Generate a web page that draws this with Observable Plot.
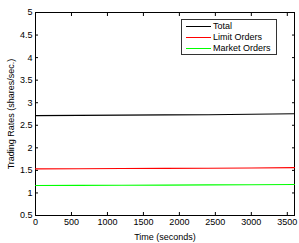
<!DOCTYPE html>
<html><head><meta charset="utf-8">
<script src="https://cdn.jsdelivr.net/npm/d3@7"></script>
<script src="https://cdn.jsdelivr.net/npm/@observablehq/plot@0.6"></script>
<style>
body{margin:0;background:#fff;font-family:"Liberation Sans",Arial,sans-serif;}
#wrap{position:relative;width:299px;height:243px;}
#legend{position:absolute;left:181px;top:19px;width:94px;height:34px;border:1px solid #333;background:#fff;font-size:9px;}
.row{position:absolute;left:0;height:11px;width:94px;}
.sw{position:absolute;left:4px;top:5px;width:25px;height:0;border-top:1px solid;}
.lb{position:absolute;left:31px;top:0;line-height:11px;color:#000;white-space:nowrap;}
</style></head>
<body><div id="wrap"><div id="legend"></div></div>
<script>
const seriesNames = ["Total", "Limit Orders", "Market Orders"];
const seriesColors = ["#000000", "#ff0000", "#00ff00"];
const time = [0, 600, 1200, 1800, 2400, 3000, 3600];
const total = [2.715, 2.72, 2.725, 2.73, 2.735, 2.745, 2.755];
const limitOrders = [1.534, 1.537, 1.541, 1.545, 1.549, 1.554, 1.561];
const marketOrders = [1.165, 1.168, 1.171, 1.174, 1.178, 1.182, 1.186];
const xTicks = [0, 500, 1000, 1500, 2000, 2500, 3000, 3500];
const yTicks = [0.5, 1, 1.5, 2, 2.5, 3, 3.5, 4, 4.5, 5];

const values = [total, limitOrders, marketOrders];
const data = [];
values.forEach((arr, s) => arr.forEach((v, i) => data.push({t: time[i], v, s: seriesNames[s]})));

const chart = Plot.plot({
  width: 299, height: 243,
  marginLeft: 35, marginRight: 5, marginTop: 12, marginBottom: 28,
  style: {fontFamily: '"Liberation Sans", Arial, sans-serif', fontSize: "9px", background: "#fff"},
  x: {domain: [0, 3600]},
  y: {domain: [0.5, 5]},
  color: {domain: seriesNames, range: seriesColors},
  marks: [
    Plot.frame({stroke: "#000", strokeWidth: 1}),
    Plot.axisX(xTicks, {anchor: "bottom", tickSize: -3, tickPadding: 6, tickFormat: d3.format("d"), label: "Time (seconds)", labelAnchor: "center", labelArrow: "none", labelOffset: 24, color: "#000"}),
    Plot.axisX(xTicks, {anchor: "top", tickSize: -3, text: null, label: null}),
    Plot.axisY(yTicks, {anchor: "left", tickSize: -3, tickPadding: 6, tickFormat: d => String(d), label: "Trading Rates (shares/sec.)", labelAnchor: "center", labelArrow: "none", labelOffset: 28, color: "#000"}),
    Plot.axisY(yTicks, {anchor: "right", tickSize: -3, text: null, label: null}),
    Plot.line(data, {x: "t", y: "v", z: "s", stroke: "s", strokeWidth: 1.1})
  ]
});
document.getElementById("wrap").prepend(chart);

const leg = document.getElementById("legend");
seriesNames.forEach((n, i) => {
  const r = document.createElement("div");
  r.className = "row";
  r.style.top = (1 + i * 11) + "px";
  r.innerHTML = `<div class="sw" style="border-color:${seriesColors[i]}"></div><div class="lb">${n}</div>`;
  leg.appendChild(r);
});
</script></body></html>
